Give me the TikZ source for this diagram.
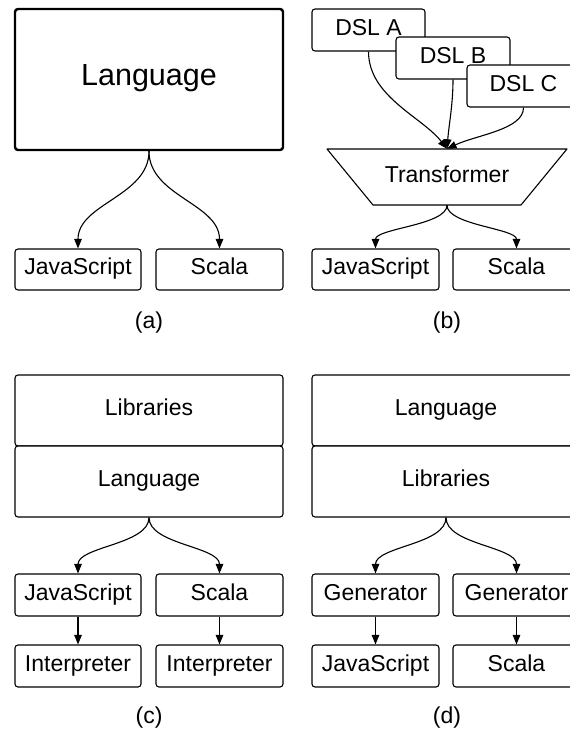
\documentclass[tikz,border=0pt]{standalone}
\usepackage{fontspec}
\setmainfont{Liberation Sans}
\usetikzlibrary{arrows.meta}
\begin{document}
\begin{tikzpicture}[x=1pt,y=-1pt,
  rbox/.style={draw, fill=white, line width=1.1pt, rounded corners=3pt, inner sep=0pt,
     text height=17pt, text depth=7pt, font=\fontsize{23}{27}\selectfont},
  bigbox/.style={rbox, line width=2.4pt, text height=23pt, text depth=11pt,
     font=\fontsize{30.5}{36}\selectfont},
  arr/.style={draw, line width=1.1pt, -{Triangle[length=9.5pt,width=7.5pt]}},
  capt/.style={font=\fontsize{23}{27}\selectfont, inner sep=0pt, text height=17pt, text depth=7pt}]
\clip (0,0) rectangle (570,734);
\fill[white] (0,0) rectangle (570,734);

% (a)
\node[bigbox, minimum width=268pt, minimum height=141pt] (langA) at (149,79.5) {Language};
\node[rbox, minimum width=126pt, minimum height=41pt] (jsA) at (78,269.5) {JavaScript};
\node[rbox, minimum width=127pt, minimum height=41pt] (scA) at (219.5,269.5) {Scala};
\node[capt] (capA) at (149,323) {(a)};
\draw[arr] (langA.south) .. controls +(0,45) and +(0,-45) .. (jsA.north);
\draw[arr] (langA.south) .. controls +(0,45) and +(0,-45) .. (scA.north);

% (b)
\node[rbox, minimum width=113pt, minimum height=42pt] (dslA) at (368.5,30) {DSL A};
\node[rbox, minimum width=114pt, minimum height=42pt] (dslB) at (453,58) {DSL B};
\node[rbox, minimum width=113pt, minimum height=42pt] (dslC) at (523.5,86) {DSL C};
\draw[line width=1.1pt, line join=round] (327,149) -- (567,149) -- (521,205) -- (373,205) -- cycle;
\node[inner sep=0pt, minimum height=56pt, text height=17pt, text depth=7pt,
      font=\fontsize{23}{27}\selectfont] (trans) at (447,177) {Transformer};
\node[rbox, minimum width=127pt, minimum height=41pt] (jsB) at (375.5,269.5) {JavaScript};
\node[rbox, minimum width=127pt, minimum height=41pt] (scB) at (516.5,269.5) {Scala};
\node[capt] (capB) at (447,323) {(b)};
\draw[arr] (dslA.south) .. controls +(0,45) and +(-25,-32) .. (trans.north);
\draw[arr] (dslB.south) .. controls +(0,25) and +(2,-25) .. (trans.north);
\draw[arr] (dslC.south) .. controls +(0,22) and +(30,-14) .. (trans.north);
\draw[arr] (trans.south) .. controls +(0,20) and +(0,-20) .. (jsB.north);
\draw[arr] (trans.south) .. controls +(0,20) and +(0,-20) .. (scB.north);

% (c)
\node[rbox, minimum width=268pt, minimum height=71pt] (libC) at (149,410.5) {Libraries};
\node[rbox, minimum width=268pt, minimum height=71pt] (langC) at (149,481.5) {Language};
\node[rbox, minimum width=126pt, minimum height=42pt] (jsC) at (78,595) {JavaScript};
\node[rbox, minimum width=127pt, minimum height=42pt] (scC) at (219.5,595) {Scala};
\node[rbox, minimum width=126pt, minimum height=42pt] (inC1) at (78,666) {Interpreter};
\node[rbox, minimum width=127pt, minimum height=42pt] (inC2) at (219.5,666) {Interpreter};
\node[capt] (capC) at (149,718) {(c)};
\draw[arr] (langC.south) .. controls +(0,27) and +(0,-27) .. (jsC.north);
\draw[arr] (langC.south) .. controls +(0,27) and +(0,-27) .. (scC.north);
\draw[arr] (jsC.south) -- (inC1.north);
\draw[arr] (scC.south) -- (inC2.north);

% (d)
\node[rbox, minimum width=268pt, minimum height=71pt] (langD) at (446,410.5) {Language};
\node[rbox, minimum width=268pt, minimum height=71pt] (libD) at (446,481.5) {Libraries};
\node[rbox, minimum width=127pt, minimum height=42pt] (genD1) at (375.5,595) {Generator};
\node[rbox, minimum width=127pt, minimum height=42pt] (genD2) at (516.5,595) {Generator};
\node[rbox, minimum width=127pt, minimum height=42pt] (jsD) at (375.5,666) {JavaScript};
\node[rbox, minimum width=127pt, minimum height=42pt] (scD) at (516.5,666) {Scala};
\node[capt] (capD) at (447,718) {(d)};
\draw[arr] (libD.south) .. controls +(0,27) and +(0,-27) .. (genD1.north);
\draw[arr] (libD.south) .. controls +(0,27) and +(0,-27) .. (genD2.north);
\draw[arr] (genD1.south) -- (jsD.north);
\draw[arr] (genD2.south) -- (scD.north);
\end{tikzpicture}
\end{document}
